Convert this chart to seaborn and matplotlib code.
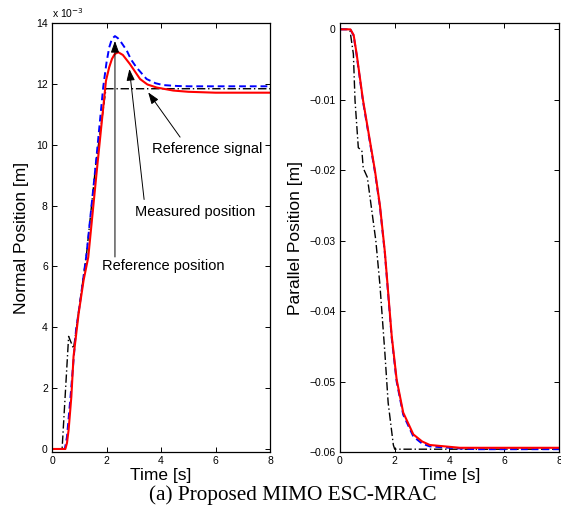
import matplotlib
matplotlib.use("Agg")
import matplotlib.pyplot as plt
import seaborn as sns

# -------------------------------
# DATA (normal position in 1e-3 m, parallel position in m)
# -------------------------------
t_ref_n = [0, 0.37, 0.61, 0.79, 0.9, 1.27, 1.6, 1.98, 8]
ref_n = [0, 0, 3.7, 3.3, 4.0, 6.43, 9.3, 11.84, 11.84]

t_model_n = [0, 0.47, 0.55, 0.67, 0.88, 1.05, 1.27, 1.6, 1.88, 2.0, 2.1, 2.2,
             2.31, 2.42, 2.55, 2.74, 2.9, 3.1, 3.47, 3.8, 4.08, 4.6, 5, 6, 8]
model_n = [0, 0, 0.4, 1.62, 3.9, 4.95, 6.43, 9.3, 11.9, 12.7, 13.2, 13.48,
           13.57, 13.5, 13.35, 13.1, 12.8, 12.54, 12.16, 12.02, 11.96, 11.93, 11.92, 11.92, 11.92]

t_meas_n = [0, 0.49, 0.55, 0.61, 0.71, 0.79, 0.98, 1.16, 1.33, 1.65, 1.98, 2.1,
            2.2, 2.3, 2.43, 2.6, 2.86, 3.23, 3.5, 3.84, 4.45, 5, 6, 8]
meas_n = [0, 0, 0.2, 0.63, 1.72, 3.04, 4.47, 5.55, 6.3, 9.2, 12.1, 12.55,
          12.82, 12.98, 13.04, 12.95, 12.65, 12.16, 11.98, 11.88, 11.78, 11.74, 11.71, 11.71]

t_ref_p = [0, 0.36, 0.49, 0.55, 0.67, 0.8, 0.85, 1.0, 1.31, 1.46, 1.64, 1.76, 1.95, 2.0, 8]
ref_p = [0, 0, -0.0035, -0.0101, -0.0168, -0.0172, -0.0197, -0.021, -0.03,
         -0.0363, -0.0459, -0.053, -0.059, -0.0596, -0.0596]

t_meas_p = [0, 0.38, 0.5, 0.61, 0.84, 1.28, 1.46, 1.64, 1.89, 2.07, 2.31, 2.68,
            3.0, 3.28, 4.38, 5, 8]
meas_p = [0, 0, -0.0008, -0.0035, -0.01, -0.0201, -0.025, -0.0316, -0.0435,
          -0.0497, -0.0544, -0.0575, -0.0585, -0.059, -0.0594, -0.0594, -0.0594]
model_p = [0, 0, -0.0009, -0.0037, -0.0102, -0.0203, -0.0252, -0.0318, -0.0438,
           -0.05, -0.0547, -0.0578, -0.0588, -0.0592, -0.0595, -0.0596, -0.0596]

x_ticks = [0, 2, 4, 6, 8]
n_ticks = [0, 2, 4, 6, 8, 10, 12, 14]
p_ticks = [-0.06, -0.05, -0.04, -0.03, -0.02, -0.01, 0]
p_labels = ["\u22120.06", "\u22120.05", "\u22120.04", "\u22120.03", "\u22120.02", "\u22120.01", "0"]

# -------------------------------
# STYLE
# -------------------------------
sns.set_style("ticks")
plt.rcParams["font.family"] = ["Liberation Sans", "DejaVu Sans"]
for key in ("text.color", "axes.labelcolor", "xtick.color", "ytick.color", "axes.edgecolor"):
    plt.rcParams[key] = "black"

fig = plt.figure(figsize=(5.61, 5.08), dpi=100)
ax1 = fig.add_axes([0.0927, 0.1102, 0.3886, 0.8445])
ax2 = fig.add_axes([0.606, 0.1102, 0.3904, 0.8445])

dashdot = (0, (6, 2, 1, 2))
dashed = (0, (3.5, 2))

# -------------------------------
# LEFT: normal position
# -------------------------------
sns.lineplot(x=t_ref_n, y=ref_n, ax=ax1, color="k", lw=1.0, ls=dashdot,
             estimator=None, sort=False)
sns.lineplot(x=t_model_n, y=model_n, ax=ax1, color="#0000ff", lw=1.4, ls=dashed,
             estimator=None, sort=False)
sns.lineplot(x=t_meas_n, y=meas_n, ax=ax1, color="#ff0000", lw=1.5,
             estimator=None, sort=False)

ax1.set_xlim(0, 8)
ax1.set_ylim(-0.1, 14)
ax1.set_xticks(x_ticks)
ax1.set_yticks(n_ticks)
ax1.set_xlabel("Time [s]", fontsize=12.5, labelpad=1)
ax1.set_ylabel("Normal Position [m]", fontsize=12.5)
ax1.yaxis.set_label_coords(-0.105, 0.5)
ax1.text(0.0, 1.008, "x 10$^{-3}$", transform=ax1.transAxes, fontsize=7.5,
         ha="left", va="bottom")

arrow = dict(arrowstyle="-|>,head_length=0.7,head_width=0.25", color="k",
             lw=0.7, shrinkA=0, shrinkB=0)
ax1.annotate("", xy=(3.53, 11.72), xytext=(4.70, 10.25), arrowprops=arrow)
ax1.text(3.66, 9.87, "Reference signal", fontsize=10.5, va="center", ha="left")
ax1.annotate("", xy=(2.84, 12.49), xytext=(3.38, 8.2), arrowprops=arrow)
ax1.text(3.05, 7.80, "Measured position", fontsize=10.5, va="center", ha="left")
ax1.annotate("", xy=(2.31, 13.41), xytext=(2.31, 6.31), arrowprops=arrow)
ax1.text(1.82, 6.02, "Reference position", fontsize=10.5, va="center", ha="left")

# -------------------------------
# RIGHT: parallel position
# -------------------------------
sns.lineplot(x=t_ref_p, y=ref_p, ax=ax2, color="k", lw=1.0, ls=dashdot,
             estimator=None, sort=False)
sns.lineplot(x=t_meas_p, y=model_p, ax=ax2, color="#0000ff", lw=1.4, ls=dashed,
             estimator=None, sort=False)
sns.lineplot(x=t_meas_p, y=meas_p, ax=ax2, color="#ff0000", lw=1.5,
             estimator=None, sort=False)

ax2.set_xlim(0, 8)
ax2.set_ylim(-0.06, 0.0009)
ax2.set_xticks(x_ticks)
ax2.set_yticks(p_ticks)
ax2.set_yticklabels(p_labels)
ax2.set_xlabel("Time [s]", fontsize=12.5, labelpad=1)
ax2.set_ylabel("Parallel Position [m]", fontsize=12.5)
ax2.yaxis.set_label_coords(-0.17, 0.5)

for ax in (ax1, ax2):
    ax.tick_params(direction="in", top=True, right=True, length=3.5,
                   width=0.7, labelsize=7.5, pad=3, colors="black")
    for s in ax.spines.values():
        s.set_linewidth(0.9)
        s.set_color("black")
        s.set_visible(True)

fig.text(0.522, 0.026, "(a) Proposed MIMO ESC-MRAC", fontsize=15.3,
         family=["Liberation Serif", "DejaVu Serif"], ha="center", va="center")

plt.savefig("out.png", dpi=100)
